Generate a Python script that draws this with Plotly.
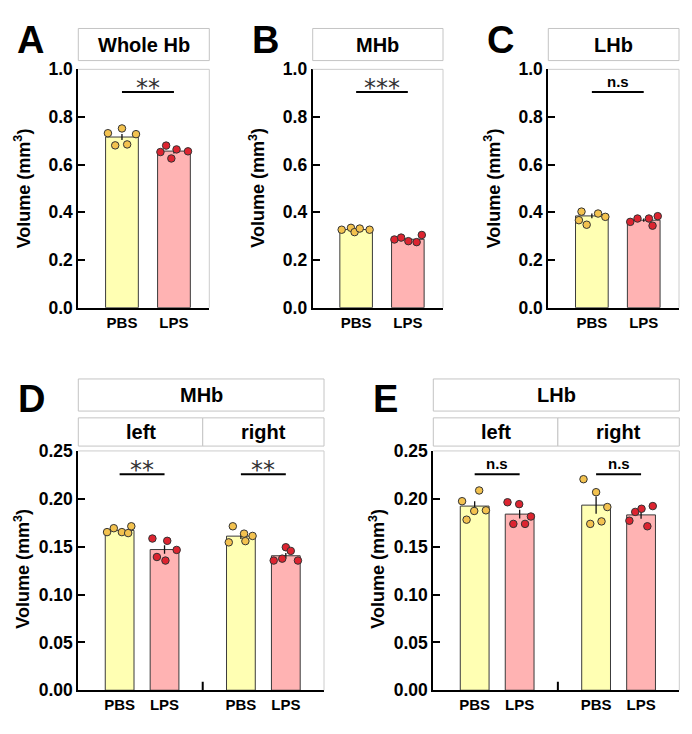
import plotly.graph_objects as go

# ---------------- data ----------------
groups = ["PBS", "LPS"]

# A: Whole Hb volume (mm^3), individual animals
wholeHb_PBS = [0.732, 0.752, 0.728, 0.681, 0.685]
wholeHb_LPS = [0.653, 0.680, 0.664, 0.626, 0.656]
wholeHb_mean = [0.716, 0.657]
wholeHb_sem = [0.013, 0.010]

# B: MHb
MHb_PBS = [0.327, 0.335, 0.317, 0.332, 0.327]
MHb_LPS = [0.286, 0.294, 0.279, 0.275, 0.305]
MHb_mean = [0.328, 0.287]
MHb_sem = [0.004, 0.005]

# C: LHb
LHb_PBS = [0.403, 0.367, 0.348, 0.395, 0.381]
LHb_LPS = [0.360, 0.374, 0.374, 0.344, 0.384]
LHb_mean = [0.385, 0.367]
LHb_sem = [0.010, 0.007]

# D: MHb left / right
MHb_left_PBS = [0.1652, 0.1693, 0.1652, 0.1642, 0.1713]
MHb_left_LPS = [0.1585, 0.1561, 0.1466, 0.1392, 0.1355]
MHb_right_PBS = [0.1713, 0.1636, 0.1612, 0.1545, 0.1558]
MHb_right_LPS = [0.1494, 0.1456, 0.1355, 0.1375, 0.1355]
MHb_side_mean = [0.167, 0.147, 0.161, 0.1405]
MHb_side_sem = [0.0012, 0.0045, 0.003, 0.0028]

# E: LHb left / right
LHb_left_PBS = [0.1975, 0.2087, 0.1880, 0.1782, 0.1873]
LHb_left_LPS = [0.1964, 0.1944, 0.1815, 0.1738, 0.1738]
LHb_right_PBS = [0.2205, 0.2069, 0.1914, 0.1738, 0.1764]
LHb_right_LPS = [0.1771, 0.1863, 0.1896, 0.1713, 0.1924]
LHb_side_mean = [0.1924, 0.184, 0.1934, 0.1832]
LHb_side_sem = [0.005, 0.0045, 0.009, 0.004]

sig_A, sig_B, sig_C = "**", "***", "n.s"
sig_D = ["**", "**"]
sig_E = ["n.s", "n.s"]

top_ticks = [0.0, 0.2, 0.4, 0.6, 0.8, 1.0]
bottom_ticks = [0.0, 0.05, 0.10, 0.15, 0.20, 0.25]

# ---------------- styling / layout ----------------
W, H = 692, 734
FONT = "Liberation Sans, Arial, sans-serif"
BAR_FILL = {"PBS": "#FFFFB3", "LPS": "#FFB3B3"}
DOT_FILL = {"PBS": "#F3C24F", "LPS": "#DD2430"}
BORDER = "#cccccc"


def fx(p):
    return p / W


def fy(p):
    return 1 - p / H


fig = go.Figure()
shapes, annos = [], []

# jitter pattern of the dots (layout only)
jit = {
    "A": ([-0.27, 0.0, 0.27, -0.13, 0.10], [-0.26, -0.15, 0.05, -0.05, 0.27]),
    "B": ([-0.28, -0.10, -0.03, 0.07, 0.26], [-0.26, -0.13, 0.01, 0.17, 0.27]),
    "C": ([-0.20, -0.25, -0.10, 0.12, 0.26], [-0.26, -0.12, 0.10, 0.17, 0.27]),
    "Dl": ([-0.28, -0.13, 0.05, 0.19, 0.26], [-0.27, 0.06, 0.27, -0.17, 0.02]),
    "Dr": ([-0.18, 0.07, 0.26, -0.27, 0.10], [0.0, 0.11, -0.27, -0.08, 0.27]),
    "El": ([-0.28, 0.10, 0.25, -0.18, -0.01], [-0.27, -0.01, 0.25, -0.14, 0.12]),
    "Er": ([-0.28, 0.0, 0.25, -0.13, 0.12], [-0.26, -0.13, 0.01, 0.14, 0.26]),
}


def add_bar_group(xa, ya, pos, grp, mean, sem, pts, jitter, bw):
    fig.add_trace(go.Bar(
        x=[pos], y=[mean], width=bw, xaxis=xa, yaxis=ya,
        marker=dict(color=BAR_FILL[grp], line=dict(color="#3a3a3a", width=1)),
        error_y=dict(type="data", array=[sem], color="#111111", thickness=1.3, width=0),
        hoverinfo="skip"))
    fig.add_trace(go.Scatter(
        x=[pos + j for j in jitter], y=pts, xaxis=xa, yaxis=ya, mode="markers",
        marker=dict(size=7.5, color=DOT_FILL[grp], line=dict(color="#333333", width=1)),
        cliponaxis=False, hoverinfo="skip"))


def sig(xa, ya, x0, x1, yv, text):
    shapes.append(dict(type="line", xref=xa, yref=ya, x0=x0, x1=x1, y0=yv, y1=yv,
                       line=dict(color="black", width=2)))
    if text.startswith("*"):
        annos.append(dict(xref=xa, yref=ya, x=(x0 + x1) / 2, y=yv, text=text,
                          showarrow=False, yanchor="bottom", yshift=-12,
                          font=dict(family="DejaVu Sans", size=24, color="#333333")))
    else:
        annos.append(dict(xref=xa, yref=ya, x=(x0 + x1) / 2, y=yv, text="<b>%s</b>" % text,
                          showarrow=False, yanchor="bottom", yshift=0,
                          font=dict(family=FONT, size=15, color="black")))


def axes(n, xdom, ydom, xr, yr, xticks, xlabels, yticks, yfmt):
    xa = "xaxis" if n == 1 else "xaxis%d" % n
    ya = "yaxis" if n == 1 else "yaxis%d" % n
    xs = "x" if n == 1 else "x%d" % n
    ys = "y" if n == 1 else "y%d" % n
    fig.update_layout(**{
        xa: dict(domain=xdom, range=xr, anchor=ys, tickvals=xticks, ticktext=xlabels,
                 showline=True, linecolor="black", linewidth=2, ticks="",
                 showgrid=False, zeroline=False, fixedrange=True,
                 tickfont=dict(family=FONT, size=15, color="black", weight="bold")),
        ya: dict(domain=ydom, range=yr, anchor=xs, tickvals=yticks, tickformat=yfmt,
                 showline=True, linecolor="black", linewidth=2, ticks="inside",
                 ticklen=7, tickwidth=2, tickcolor="black",
                 showgrid=False, zeroline=False, fixedrange=True,
                 tickfont=dict(family=FONT, size=17.5, color="black", weight="bold")),
    })
    # light grey top/right frame
    shapes.append(dict(type="line", xref=xs + " domain", yref=ys + " domain",
                       x0=0, x1=1, y0=1, y1=1, line=dict(color=BORDER, width=1)))
    shapes.append(dict(type="line", xref=xs + " domain", yref=ys + " domain",
                       x0=1, x1=1, y0=0, y1=1, line=dict(color=BORDER, width=1)))
    return xs, ys


def box(x0, x1, y0, y1, text, size=20):
    shapes.append(dict(type="rect", xref="paper", yref="paper",
                       x0=fx(x0), x1=fx(x1), y0=fy(y1), y1=fy(y0),
                       line=dict(color="#c4c4c4", width=1), fillcolor="white", layer="below"))
    annos.append(dict(xref="paper", yref="paper", x=fx((x0 + x1) / 2), y=fy((y0 + y1) / 2),
                      text="<b>%s</b>" % text, showarrow=False, xanchor="center", yanchor="middle",
                      font=dict(family=FONT, size=size, color="black")))


def letter(xl, yc, t):
    annos.append(dict(xref="paper", yref="paper", x=fx(xl), y=fy(yc), text="<b>%s</b>" % t,
                      showarrow=False, xanchor="left", yanchor="middle",
                      font=dict(family=FONT, size=38, color="black")))


def ytitle(xc, yc):
    annos.append(dict(xref="paper", yref="paper", x=fx(xc), y=fy(yc),
                      text="<b>Volume (mm<sup>3</sup>)</b>", textangle=-90, showarrow=False,
                      xanchor="center", yanchor="middle",
                      font=dict(family=FONT, size=18, color="black")))


# ---------- top row: A, B, C ----------
top_y = [fy(306), fy(61)]
xr_top = [-0.84, 1.68]
pos2 = [0, 1]
top_panels = [
    (1, 78.3, 209.3, "A", "Whole Hb", wholeHb_PBS, wholeHb_LPS, wholeHb_mean, wholeHb_sem, sig_A),
    (2, 312.7, 443.0, "B", "MHb", MHb_PBS, MHb_LPS, MHb_mean, MHb_sem, sig_B),
    (3, 548.3, 679.0, "C", "LHb", LHb_PBS, LHb_LPS, LHb_mean, LHb_sem, sig_C),
]
for n, x0, x1, lab, title, p, l, m, s, sg in top_panels:
    xs, ys = axes(n, [fx(x0), fx(x1)], top_y, xr_top, [0, 1.0], pos2, groups,
                  top_ticks, ".1f")
    add_bar_group(xs, ys, pos2[0], "PBS", m[0], s[0], p, jit[lab][0], 0.63)
    add_bar_group(xs, ys, pos2[1], "LPS", m[1], s[1], l, jit[lab][1], 0.63)
    sig(xs, ys, 0, 1, 0.905, sg)
    box(x0, x1, 19, 52, title)
    letter(x0 - 63, 30.5, lab)
    ytitle(x0 - 56, 183)

# ---------- bottom row: D, E ----------
bot_y = [fy(699.3), fy(453.3)]
pos4 = [0, 1, 2.7, 3.7]
mid = 1.85
xr_bot = [-0.92, 4.55]
bottom_panels = [
    (4, 78.3, 324.0, "D", "MHb",
     [MHb_left_PBS, MHb_left_LPS, MHb_right_PBS, MHb_right_LPS], MHb_side_mean, MHb_side_sem, sig_D),
    (5, 433.3, 679.3, "E", "LHb",
     [LHb_left_PBS, LHb_left_LPS, LHb_right_PBS, LHb_right_LPS], LHb_side_mean, LHb_side_sem, sig_E),
]
for n, x0, x1, lab, title, pts, m, s, sg in bottom_panels:
    xs, ys = axes(n, [fx(x0), fx(x1)], bot_y, xr_bot, [0, 0.25], pos4, groups * 2,
                  bottom_ticks, ".2f")
    jl, jr = jit[lab + "l"], jit[lab + "r"]
    jj = [jl[0], jl[1], jr[0], jr[1]]
    for i in range(4):
        add_bar_group(xs, ys, pos4[i], groups[i % 2], m[i], s[i], pts[i], jj[i], 0.64)
    sig(xs, ys, pos4[0], pos4[1], 0.2256, sg[0])
    sig(xs, ys, pos4[2], pos4[3], 0.2256, sg[1])
    # small separator tick on the x axis
    shapes.append(dict(type="line", xref=xs, yref=ys + " domain", x0=mid, x1=mid,
                       y0=0, y1=0.035, line=dict(color="black", width=2)))
    box(x0, x1, 379.3, 412.3, title)
    xm = x0 + (x1 - x0) * (mid - xr_bot[0]) / (xr_bot[1] - xr_bot[0])
    box(x0, xm, 419.3, 448.3, "left")
    box(xm, x1, 419.3, 448.3, "right")
    letter(x0 - 62, 400, lab)
    ytitle(x0 - 56, 574)

fig.update_layout(
    width=W, height=H, margin=dict(l=0, r=0, t=0, b=0),
    paper_bgcolor="white", plot_bgcolor="white", showlegend=False,
    barmode="overlay", shapes=shapes, annotations=annos,
    font=dict(family=FONT, color="black"), hovermode=False,
)

fig.write_html(
    "out.html",
    config={"displayModeBar": False, "staticPlot": True},
    post_script="document.body.style.margin='0';document.body.style.overflow='hidden';",
)
